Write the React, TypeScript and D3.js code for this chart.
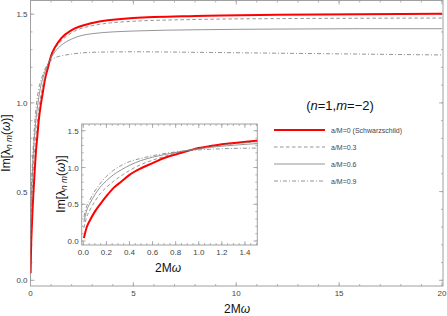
import React from 'react';
import * as d3 from 'd3';

// sample abscissae (2Mω) shared by all series
const xSamples = [0.005, 0.03, 0.06, 0.1, 0.15, 0.2, 0.26, 0.33, 0.4, 0.5, 0.6, 0.7, 0.85, 1.0, 1.2, 1.5, 2, 3, 5, 8, 12, 16, 20];

// Im[λ_nm(ω)]
const schwarzschild = [0.04, 0.19, 0.29, 0.4, 0.51, 0.61, 0.72, 0.81, 0.9, 0.99, 1.06, 1.13, 1.2, 1.265, 1.315, 1.365, 1.41, 1.45, 1.478, 1.49, 1.496, 1.499, 1.502];
const spin03 = [0.18, 0.33, 0.43, 0.54, 0.65, 0.73, 0.81, 0.89, 0.96, 1.04, 1.1, 1.15, 1.215, 1.26, 1.305, 1.35, 1.395, 1.435, 1.46, 1.47, 1.475, 1.477, 1.478];
const spin06 = [0.26, 0.42, 0.52, 0.63, 0.74, 0.82, 0.9, 0.97, 1.03, 1.095, 1.14, 1.175, 1.22, 1.255, 1.29, 1.325, 1.36, 1.39, 1.405, 1.412, 1.416, 1.418, 1.418];
const spin09 = [0.33, 0.48, 0.57, 0.68, 0.79, 0.88, 0.96, 1.03, 1.08, 1.125, 1.16, 1.19, 1.22, 1.24, 1.255, 1.265, 1.275, 1.285, 1.288, 1.285, 1.28, 1.275, 1.27];

const legendLabels = ['a/M=0 (Schwarzschild)', 'a/M=0.3', 'a/M=0.6', 'a/M=0.9'];

const mainXTicks = [0, 5, 10, 15, 20];
const mainYTicks = [0, 0.5, 1.0, 1.5];
const insetXTicks = [0, 0.2, 0.4, 0.6, 0.8, 1.0, 1.2, 1.4];
const insetYTicks = [0, 0.5, 1.0, 1.5];

const seriesList = [
  { values: schwarzschild, color: '#ff0000', width: 2, dash: null },
  { values: spin03, color: '#7a7a7a', width: 0.8, dash: '3.5,2.5' },
  { values: spin06, color: '#7a7a7a', width: 0.8, dash: null },
  { values: spin09, color: '#7a7a7a', width: 0.8, dash: '4,2,1,2' },
];

const FONT = 'Liberation Sans, Arial, sans-serif';
const frameColor = '#a0a0a0';
const labelColor = '#444';

function FramedPlot({ id, x, y, xMajor, xMinor, yMajor, yMinor, xFmt, yFmt, domainMax }) {
  const [x0, x1] = x.range();
  const [y0, y1] = y.range();
  const idx = xSamples.map((v, i) => i).filter((i) => xSamples[i] <= domainMax);
  return (
    <g>
      <defs>
        <clipPath id={id}>
          <rect x={x0} y={y1} width={x1 - x0} height={y0 - y1} />
        </clipPath>
      </defs>
      <rect x={x0} y={y1} width={x1 - x0} height={y0 - y1} fill="#fff" stroke={frameColor} strokeWidth={1} />
      <g stroke={frameColor} strokeWidth={0.8}>
        {xMinor.map((t) => (
          <g key={'xm' + t}>
            <line x1={x(t)} x2={x(t)} y1={y0} y2={y0 - 2} />
            <line x1={x(t)} x2={x(t)} y1={y1} y2={y1 + 2} />
          </g>
        ))}
        {xMajor.map((t) => (
          <g key={'xM' + t}>
            <line x1={x(t)} x2={x(t)} y1={y0} y2={y0 - 4} />
            <line x1={x(t)} x2={x(t)} y1={y1} y2={y1 + 4} />
          </g>
        ))}
        {yMinor.map((t) => (
          <g key={'ym' + t}>
            <line x1={x0} x2={x0 + 2} y1={y(t)} y2={y(t)} />
            <line x1={x1} x2={x1 - 2} y1={y(t)} y2={y(t)} />
          </g>
        ))}
        {yMajor.map((t) => (
          <g key={'yM' + t}>
            <line x1={x0} x2={x0 + 4} y1={y(t)} y2={y(t)} />
            <line x1={x1} x2={x1 - 4} y1={y(t)} y2={y(t)} />
          </g>
        ))}
      </g>
      <g fontFamily={FONT} fontSize={8} fill={labelColor}>
        {xMajor.map((t) => (
          <text key={'xl' + t} x={x(t)} y={y0 + 10} textAnchor="middle">{xFmt(t)}</text>
        ))}
        {yMajor.map((t) => (
          <text key={'yl' + t} x={x0 - 3} y={y(t) + 3} textAnchor="end">{yFmt(t)}</text>
        ))}
      </g>
      <g clipPath={`url(#${id})`}>
        {seriesList.map((s, k) => {
          const line = d3.line<number>()
            .x((i) => x(xSamples[i]))
            .y((i) => y(s.values[i]))
            .curve(d3.curveMonotoneX);
          return (
            <path
              key={k}
              d={line(idx) || ''}
              fill="none"
              stroke={s.color}
              strokeWidth={s.width}
              strokeLinejoin="round"
              strokeDasharray={s.dash || undefined}
            />
          );
        })}
      </g>
    </g>
  );
}

function YLabel({ cx, cy, size }) {
  return (
    <text transform={`translate(${cx},${cy}) rotate(-90)`} textAnchor="middle" fontFamily={FONT} fontSize={size} fill="#111">
      Im[λ<tspan fontStyle="italic" fontSize={size * 0.7} dy={size * 0.2}>n m</tspan>
      <tspan dy={-size * 0.2}>(</tspan><tspan fontStyle="italic">ω</tspan>)]
    </text>
  );
}

function XLabel({ cx, cy, size }) {
  return (
    <text x={cx} y={cy} textAnchor="middle" fontFamily={FONT} fontSize={size} fill="#111">
      2M<tspan fontStyle="italic">ω</tspan>
    </text>
  );
}

export default function App() {
  const width = 447;
  const height = 316;

  const xMain = d3.scaleLinear().domain([0, 20.05]).range([30.5, 443]);
  const yMain = d3.scaleLinear().domain([-0.032, 1.577]).range([286, 0.5]);

  const xInset = d3.scaleLinear().domain([-0.014, 1.507]).range([81.7, 257.3]);
  const yInset = d3.scaleLinear().domain([-0.054, 1.592]).range([245, 124]);

  const mainXMinor = d3.range(0, 21, 1);
  const mainYMinor = d3.range(0, 1.55, 0.1);
  const insetXMinor = d3.range(0, 1.51, 0.05);
  const insetYMinor = d3.range(0, 1.55, 0.1);

  const legendY = [130, 147, 164, 181];

  return (
    <svg width={width} height={height} style={{ position: 'absolute', left: 0, top: 0, background: '#fff' }}>
      <FramedPlot
        id="clipMain"
        x={xMain}
        y={yMain}
        xMajor={mainXTicks}
        xMinor={mainXMinor}
        yMajor={mainYTicks}
        yMinor={mainYMinor}
        xFmt={(t) => String(t)}
        yFmt={(t) => t.toFixed(1)}
        domainMax={20}
      />
      <YLabel cx={10} cy={143} size={12} />
      <XLabel cx={237} cy={313} size={12} />

      <FramedPlot
        id="clipInset"
        x={xInset}
        y={yInset}
        xMajor={insetXTicks}
        xMinor={insetXMinor}
        yMajor={insetYTicks}
        yMinor={insetYMinor}
        xFmt={(t) => t.toFixed(1)}
        yFmt={(t) => t.toFixed(1)}
        domainMax={2}
      />
      <YLabel cx={65} cy={184} size={12} />
      <XLabel cx={168} cy={272} size={12} />

      <text x={340} y={110} textAnchor="middle" fontFamily={FONT} fontSize={13} fill="#111">
        (<tspan fontStyle="italic">n</tspan>=1,<tspan fontStyle="italic">m</tspan>=−2)
      </text>

      {seriesList.map((s, k) => (
        <g key={'lg' + k}>
          <line
            x1={274}
            x2={325}
            y1={legendY[k]}
            y2={legendY[k]}
            stroke={s.color}
            strokeWidth={s.width === 2 ? 2.2 : 0.8}
            strokeDasharray={s.dash || undefined}
          />
          <text x={331} y={legendY[k] + 2.5} fontFamily={FONT} fontSize={7} fill={labelColor}>
            {legendLabels[k]}
          </text>
        </g>
      ))}
    </svg>
  );
}
